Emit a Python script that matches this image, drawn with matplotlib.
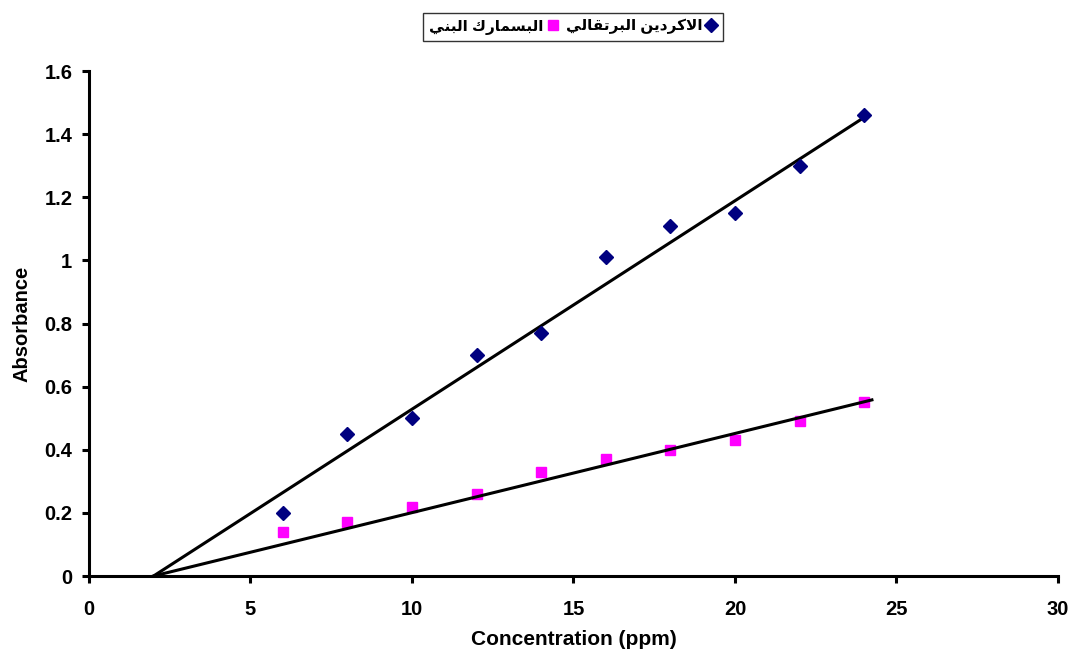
import unicodedata
import matplotlib
matplotlib.use('Agg')
import matplotlib.pyplot as plt

# data
conc = [6, 8, 10, 12, 14, 16, 18, 20, 22, 24]
abs_orange = [0.20, 0.45, 0.50, 0.70, 0.77, 1.01, 1.11, 1.15, 1.30, 1.46]
abs_brown = [0.14, 0.17, 0.22, 0.26, 0.33, 0.37, 0.40, 0.43, 0.49, 0.55]

# trend line end points
trend_x_orange = [2, 24.12]
trend_y_orange = [0, 1.461]
trend_x_brown = [2, 24.24]
trend_y_brown = [0, 0.558]

label_orange = 'الاكردين البرتقالي'
label_brown = 'البسمارك البني'

x_ticks = [0, 5, 10, 15, 20, 25, 30]
y_ticks = [0, 0.2, 0.4, 0.6, 0.8, 1, 1.2, 1.4, 1.6]
y_ticklabels = ['0', '0.2', '0.4', '0.6', '0.8', '1', '1.2', '1.4', '1.6']


# matplotlib has no arabic shaping, so build presentation forms by hand
forms = {}
lamalef = {}
for cp in range(0xFE70, 0xFEFF):
    d = unicodedata.decomposition(chr(cp))
    if not d.startswith('<'):
        continue
    parts = d.split()
    tag = parts[0]
    codes = ''.join(chr(int(c, 16)) for c in parts[1:])
    if len(codes) == 1:
        forms.setdefault(codes, {})[tag] = chr(cp)
    elif codes[0] == '\u0644':
        lamalef.setdefault(codes, {})[tag] = chr(cp)


def shape(text):
    chars = []
    i = 0
    while i < len(text):
        if text[i:i+2] in lamalef:
            chars.append(text[i:i+2])
            i += 2
        else:
            chars.append(text[i])
            i += 1

    def dual(c):
        return c in forms and '<initial>' in forms[c]

    out = []
    for i, c in enumerate(chars):
        prev = chars[i-1] if i > 0 else None
        nxt = chars[i+1] if i < len(chars)-1 else None
        jp = prev is not None and dual(prev) and (c in forms or c in lamalef)
        if c in lamalef:
            out.append(lamalef[c]['<final>' if jp else '<isolated>'])
            continue
        if c not in forms:
            out.append(c)
            continue
        jn = dual(c) and nxt is not None and (nxt in forms or nxt in lamalef)
        if jp and jn:
            tag = '<medial>'
        elif jp:
            tag = '<final>'
        elif jn:
            tag = '<initial>'
        else:
            tag = '<isolated>'
        out.append(forms[c].get(tag, c))
    return ''.join(out)[::-1]


plt.rcParams['font.family'] = ['Liberation Sans', 'DejaVu Sans']
plt.rcParams['font.weight'] = 'bold'

fig = plt.figure(figsize=(10.73, 6.55), dpi=100)
ax = fig.add_axes([0.0829, 0.1206, 0.9031, 0.771])

ax.plot(trend_x_orange, trend_y_orange, color='black', linewidth=2.2, zorder=3)
ax.plot(trend_x_brown, trend_y_brown, color='black', linewidth=2.2, zorder=3)
p1, = ax.plot(conc, abs_orange, 'D', color='#000080', markersize=7, linestyle='none', zorder=4)
p2, = ax.plot(conc, abs_brown, 's', color='#FF00FF', markersize=7.5, linestyle='none', zorder=2)

ax.set_xlim(0, 30)
ax.set_ylim(0, 1.6)
ax.set_xticks(x_ticks)
ax.set_yticks(y_ticks)
ax.set_yticklabels(y_ticklabels)
ax.tick_params(axis='both', direction='out', length=5, width=2.2, labelsize=14.5)
ax.tick_params(axis='x', pad=12)
ax.tick_params(axis='y', pad=7)
for lab in ax.get_xticklabels() + ax.get_yticklabels():
    lab.set_fontweight('bold')

ax.spines['right'].set_visible(False)
ax.spines['top'].set_visible(False)
ax.spines['left'].set_linewidth(2.2)
ax.spines['bottom'].set_linewidth(2.2)

ax.set_xlabel('Concentration (ppm)', fontsize=15, fontweight='bold', labelpad=8)
ax.set_ylabel('Absorbance', fontsize=14.5, fontweight='bold', labelpad=9)

leg = fig.legend([p2, p1], [shape(label_brown), shape(label_orange)], loc='center',
                 bbox_to_anchor=(0.534, 0.959), ncol=2, markerfirst=False,
                 frameon=True, fancybox=False, edgecolor='black', fontsize=11,
                 handlelength=0.7, handletextpad=0.25, columnspacing=0.5,
                 borderpad=0.4)
leg.get_frame().set_linewidth(1)
for t in leg.get_texts():
    t.set_fontweight('bold')

fig.savefig('out.png', dpi=100)
